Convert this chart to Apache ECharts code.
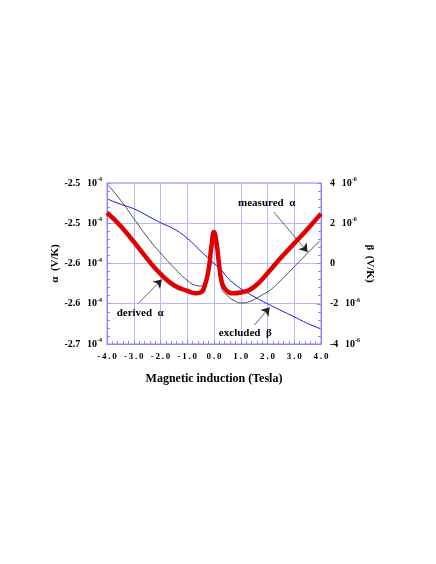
<!DOCTYPE html>
<html>
<head>
<meta charset="utf-8">
<script src="https://cdn.jsdelivr.net/npm/echarts@6/dist/echarts.min.js"></script>
<style>
  html, body { margin: 0; padding: 0; background: #fff; }
  #chart { width: 436px; height: 564px; }
</style>
</head>
<body>
<div id="chart"></div>
<script>
// magnetic induction (Tesla) and alpha (x 10^-4 V/K) for the derived curve
const derivedB = [-4.0, -3.5, -3.0, -2.5, -2.0, -1.5, -1.0, -0.7, -0.5, -0.35, -0.2, -0.1, 0.0, 0.1, 0.2, 0.3, 0.45, 0.7, 1.0, 1.5, 2.0, 2.5, 3.0, 3.5, 4.0];
const derivedAlpha = [-2.537, -2.553, -2.573, -2.594, -2.613, -2.627, -2.634, -2.637, -2.636, -2.628, -2.607, -2.580, -2.561, -2.576, -2.604, -2.624, -2.633, -2.637, -2.636, -2.629, -2.612, -2.593, -2.575, -2.557, -2.538];

// measured alpha (x 10^-4 V/K)
const measuredB = [-3.95, -3.5, -3.0, -2.5, -2.0, -1.5, -1.0, -0.7, -0.5, -0.35, -0.2, -0.1, 0.0, 0.1, 0.2, 0.3, 0.5, 0.75, 1.0, 1.35, 1.75, 2.1, 2.5, 3.0, 3.5, 3.95];
const measuredAlpha = [-2.503, -2.521, -2.544, -2.567, -2.587, -2.605, -2.621, -2.627, -2.628, -2.624, -2.605, -2.582, -2.564, -2.582, -2.612, -2.632, -2.640, -2.646, -2.649, -2.647, -2.640, -2.633, -2.621, -2.604, -2.587, -2.572];

// excluded beta (x 10^-6 V/K), right axis
const excludedB = [-3.95, -3.5, -3.0, -2.5, -2.0, -1.5, -1.0, -0.5, 0.0, 0.25, 0.5, 0.75, 1.0, 1.5, 2.0, 2.5, 3.0, 3.5, 3.95];
const excludedBeta = [3.18, 2.95, 2.72, 2.38, 2.03, 1.72, 1.25, 0.62, 0.0, -0.3, -0.7, -1.0, -1.25, -1.65, -2.0, -2.33, -2.65, -2.98, -3.22];

// tick labels
const xTickLabels = ['-4.0', '-3.0', '-2.0', '-1.0', '0.0', '1.0', '2.0', '3.0', '4.0'];
const alphaTickLabels = ['-2.7', '-2.6', '-2.6', '-2.5', '-2.5'];
const betaTickLabels = ['-4', '-2', '0', '2', '4'];

const serif = '"Liberation Serif", "DejaVu Serif", serif';
const axisBlue = '#8888ff';
const gridBlue = '#b8b8ff';

function pairs(xs, ys) {
  return xs.map((x, i) => [x, ys[i]]);
}

const chart = echarts.init(document.getElementById('chart'));

const option = {
  animation: false,
  grid: {
    left: 107, right: 115, top: 183, bottom: 220,
    show: true, borderColor: axisBlue, borderWidth: 1
  },
  xAxis: {
    type: 'value', min: -4, max: 4, interval: 1,
    name: 'Magnetic induction (Tesla)',
    nameLocation: 'middle', nameGap: 29,
    nameTextStyle: { fontFamily: serif, fontWeight: 'bold', fontSize: 12, color: '#000' },
    axisLine: { onZero: false, lineStyle: { color: axisBlue, width: 1 } },
    axisTick: { inside: true, length: 4, lineStyle: { color: axisBlue } },
    minorTick: { show: true, splitNumber: 5, length: 3, lineStyle: { color: axisBlue } },
    splitLine: { show: true, lineStyle: { color: gridBlue, width: 1 } },
    axisLabel: {
      margin: 8, fontFamily: serif, fontWeight: 'bold', fontSize: 9, color: '#000',
      formatter: (v) => {
        const s = xTickLabels[Math.round(v + 4)] || '';
        return s.split('').join('\u2009');
      }
    }
  },
  yAxis: [
    {
      type: 'value', min: -2.7, max: -2.5, interval: 0.05, position: 'left',
      name: 'α  (V/K)', nameLocation: 'middle', nameRotate: 90, nameGap: 42,
      nameTextStyle: { fontFamily: serif, fontWeight: 'bold', fontSize: 11, color: '#000' },
      axisLine: { show: true, onZero: false, lineStyle: { color: axisBlue } },
      axisTick: { inside: true, length: 4, lineStyle: { color: axisBlue } },
      minorTick: { show: true, splitNumber: 5, length: 3, lineStyle: { color: axisBlue } },
      splitLine: { show: true, lineStyle: { color: gridBlue, width: 1 } },
      axisLabel: {
        margin: 5, color: '#000',
        formatter: (v) => {
          const s = alphaTickLabels[Math.round((v + 2.7) / 0.05)] || '';
          return '{a|' + s + '}  {a|10}{s|-4}';
        },
        rich: {
          a: { fontFamily: serif, fontWeight: 'bold', fontSize: 10, color: '#000' },
          s: { fontFamily: serif, fontWeight: 'bold', fontSize: 6, color: '#000', padding: [0, 0, 7, 0] }
        }
      }
    },
    {
      type: 'value', min: -4, max: 4, interval: 2, position: 'right',
      name: 'β  (V/K)', nameLocation: 'middle', nameRotate: -90, nameGap: 36,
      nameTextStyle: { fontFamily: serif, fontWeight: 'bold', fontSize: 11, color: '#000' },
      axisLine: { show: true, onZero: false, lineStyle: { color: axisBlue } },
      axisTick: { inside: true, length: 4, lineStyle: { color: axisBlue } },
      minorTick: { show: true, splitNumber: 5, length: 3, lineStyle: { color: axisBlue } },
      splitLine: { show: false },
      axisLabel: {
        margin: 9, color: '#000',
        formatter: (v) => {
          const s = betaTickLabels[Math.round((v + 4) / 2)] || '';
          return s === '0' ? '{a|0}' : '{a|' + s + '}  {a|10}{s|-6}';
        },
        rich: {
          a: { fontFamily: serif, fontWeight: 'bold', fontSize: 10, color: '#000' },
          s: { fontFamily: serif, fontWeight: 'bold', fontSize: 6, color: '#000', padding: [0, 0, 7, 0] }
        }
      }
    }
  ],
  series: [
    {
      name: 'excluded β', type: 'line', yAxisIndex: 1,
      data: pairs(excludedB, excludedBeta),
      smooth: 0.5, showSymbol: false, silent: true,
      lineStyle: { color: '#1010e0', width: 1 }
    },
    {
      name: 'measured α', type: 'line', yAxisIndex: 0,
      data: pairs(measuredB, measuredAlpha),
      smooth: 0.5, showSymbol: false, silent: true,
      lineStyle: { color: '#222', width: 0.8 }
    },
    {
      name: 'derived α', type: 'line', yAxisIndex: 0,
      data: pairs(derivedB, derivedAlpha),
      smooth: 0.5, showSymbol: false, silent: true,
      lineStyle: { color: '#e00000', width: 4.5, join: 'round' },
      markLine: {
        silent: true,
        symbol: ['none', 'arrow'],
        symbolSize: 8,
        label: { show: false },
        lineStyle: { color: '#222', width: 0.7, type: 'solid' },
        emphasis: { disabled: true },
        data: [
          [{ coord: [2.23, -2.536] }, { coord: [3.50, -2.5856] }],
          [{ coord: [-2.83, -2.6495] }, { coord: [-1.95, -2.6198] }],
          [{ coord: [1.51, -2.6764] }, { coord: [2.08, -2.6545] }]
        ]
      }
    }
  ]
};

chart.setOption(option);

// annotation labels positioned in data coordinates
const notes = [
  { text: 'measured  α', at: [1.97, -2.5248] },
  { text: 'derived  α', at: [-2.76, -2.6612] },
  { text: 'excluded  β', at: [1.17, -2.686] }
];
chart.setOption({
  graphic: notes.map((n) => {
    const p = chart.convertToPixel({ xAxisIndex: 0, yAxisIndex: 0 }, n.at);
    return {
      type: 'text', x: p[0], y: p[1], silent: true,
      style: {
        text: n.text, fill: '#000', font: 'bold 11px ' + serif,
        align: 'center', verticalAlign: 'middle'
      }
    };
  })
});
</script>
</body>
</html>
